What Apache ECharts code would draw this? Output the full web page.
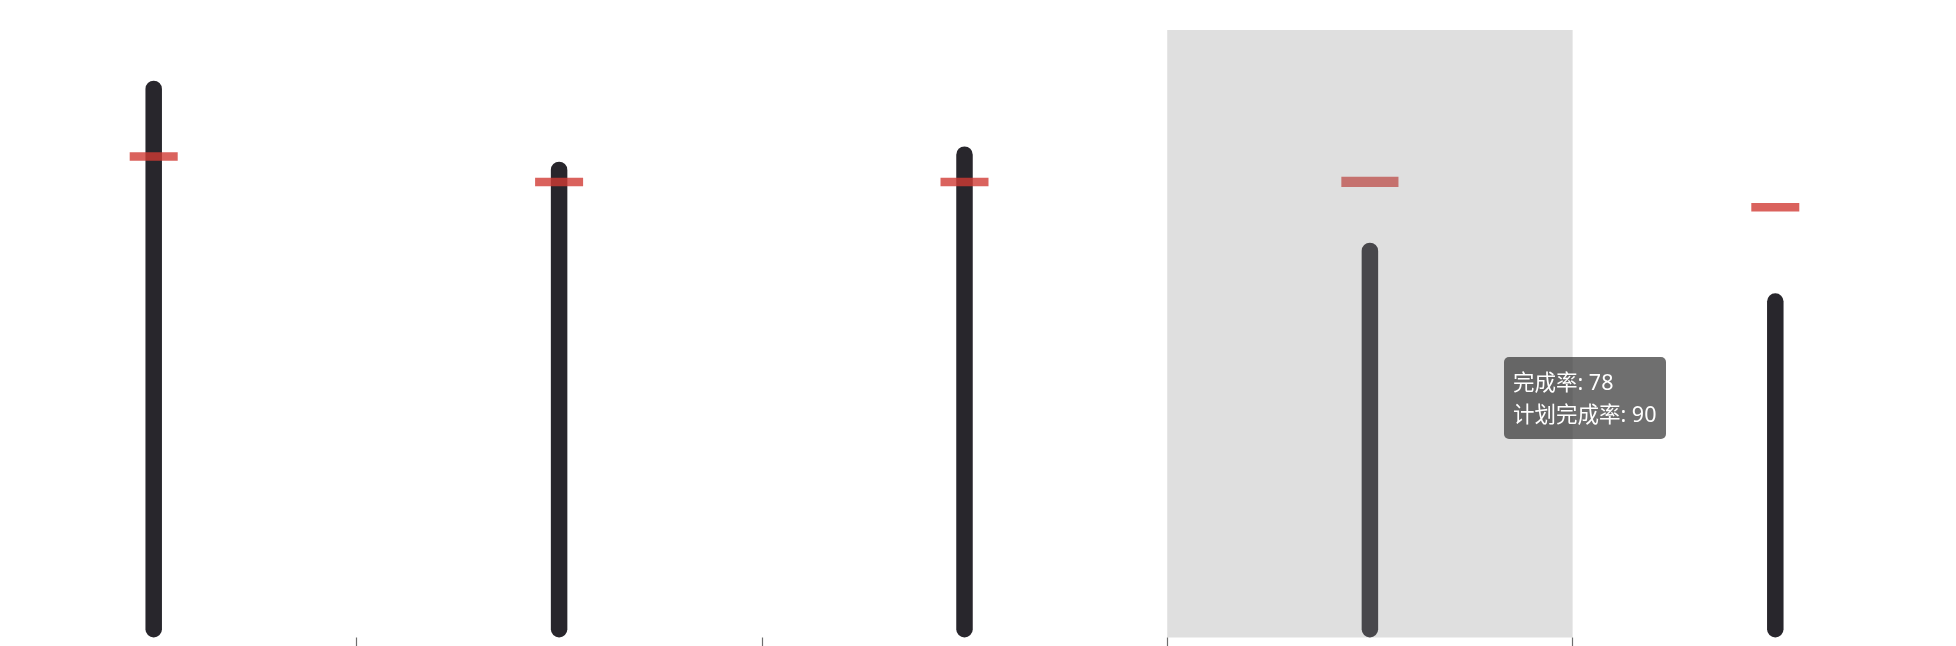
<!DOCTYPE html>
<html>
<head>
<meta charset="utf-8">
<style>
    html, body { margin: 0; padding: 0; background: #fff; overflow: hidden; }
    #wrap { width: 1956px; height: 646px; overflow: hidden; position: relative; }
    #main { width: 2027px; height: 646px; position: absolute; left: -48.6px; top: 0; }
</style>
<script src="https://cdn.jsdelivr.net/npm/echarts@6/dist/echarts.min.js"></script>
</head>
<body>
<div id="wrap"><div id="main"></div></div>
<script>
// 分类
var categories = ['一月', '二月', '三月', '四月', '五月'];
// 完成率
var doneRate = [110, 94, 97, 78, 68];
// 计划完成率
var planRate = [95, 90, 90, 90, 85];

var chart = echarts.init(document.getElementById('main'));

chart.setOption({
    animation: false,
    grid: {
        left: 0,
        right: 0,
        top: 30,
        bottom: 8.5
    },
    tooltip: {
        trigger: 'axis',
        alwaysShowContent: true,
        axisPointer: {
            type: 'shadow',
            z: 50,
            shadowStyle: {
                color: 'rgba(150,150,150,0.3)'
            }
        },
        backgroundColor: 'rgba(50,50,50,0.7)',
        borderWidth: 0,
        borderRadius: 5,
        padding: [9, 10, 9, 9],
        extraCssText: 'box-shadow:none;',
        textStyle: {
            color: '#fff',
            fontSize: 21.5,
            fontFamily: '"Noto Sans", "Noto Sans CJK SC", sans-serif'
        },
        position: function () {
            // 容器整体左移了 48.6px
            return [1504 + 48.6, 357];
        },
        formatter: function (params) {
            var lines = [];
            for (var i = 0; i < params.length; i++) {
                lines.push('<div style="line-height:32px">' + params[i].seriesName + ': ' + params[i].value + '</div>');
            }
            return lines.join('');
        }
    },
    xAxis: {
        type: 'category',
        data: categories,
        axisLine: { show: false },
        axisLabel: { show: false },
        axisTick: {
            show: true,
            length: 9,
            lineStyle: { color: '#6e6e6e', width: 1.2 }
        }
    },
    yAxis: {
        type: 'value',
        min: 0,
        max: 120,
        show: false
    },
    series: [
        {
            name: '完成率',
            type: 'bar',
            data: doneRate,
            barWidth: 16.5,
            itemStyle: {
                color: '#28262c',
                borderRadius: 8.25
            },
            emphasis: {
                itemStyle: { color: '#28262c' }
            }
        },
        {
            name: '计划完成率',
            type: 'scatter',
            data: planRate,
            symbol: 'rect',
            symbolSize: [48, 8.5],
            itemStyle: {
                color: 'rgb(209,59,52)',
                opacity: 0.8
            },
            emphasis: {
                scale: 1.19,
                itemStyle: { color: 'rgb(209,59,52)', opacity: 0.8 }
            }
        }
    ]
});

chart.dispatchAction({ type: 'showTip', seriesIndex: 0, dataIndex: 3 });
chart.dispatchAction({ type: 'highlight', seriesIndex: 1, dataIndex: 3 });
</script>
</body>
</html>
